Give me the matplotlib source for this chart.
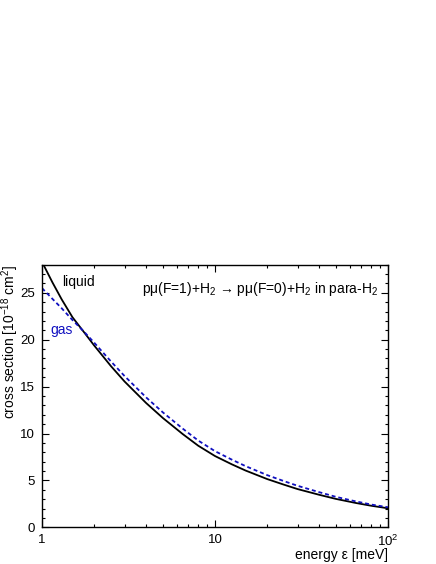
import matplotlib
matplotlib.use("Agg")
import matplotlib.pyplot as plt
from matplotlib.ticker import MultipleLocator, FixedLocator, FixedFormatter, LogLocator, NullFormatter

plt.rcParams['font.family'] = ['Liberation Sans', 'DejaVu Sans']
plt.rcParams['mathtext.fontset'] = 'custom'
plt.rcParams['mathtext.rm'] = 'Liberation Sans'
plt.rcParams['mathtext.it'] = 'Liberation Sans:italic'
plt.rcParams['mathtext.bf'] = 'Liberation Sans:bold'

# energy in meV, cross sections in 1e-18 cm^2
energy = [1.0, 1.15, 1.3, 1.5, 1.75, 2.0, 2.5, 3.0, 4.0, 5.0, 6.5,
          8.0, 10, 12.5, 15, 20, 25, 30, 40, 50, 65, 80, 100]
liquid = [28.3, 26.1, 24.3, 22.4, 20.8, 19.4, 17.2, 15.55, 13.25, 11.65, 9.95,
          8.7, 7.6, 6.72, 6.06, 5.15, 4.55, 4.08, 3.47, 3.03, 2.6, 2.3, 2.03]
gas = [25.5, 24.35, 23.35, 22.1, 20.85, 19.7, 17.7, 16.13, 13.85, 12.25, 10.53,
       9.25, 8.12, 7.22, 6.53, 5.57, 4.93, 4.43, 3.75, 3.25, 2.77, 2.43, 2.14]

xtick_vals = [1, 10, 100]
xtick_labels = ['1', '10', '$10^{2}$']

fig = plt.figure(figsize=(4.36, 5.64), dpi=100)
ax = fig.add_axes([0.0963, 0.065, 0.7937, 0.4657])

ax.plot(energy, liquid, color='black', lw=1.3)
ax.plot(energy, gas, color='#1010c0', lw=1.3, dashes=(2.2, 1.6))

ax.set_xscale('log')
ax.set_xlim(1, 100)
ax.set_ylim(0, 28)

ax.xaxis.set_major_locator(FixedLocator(xtick_vals))
ax.xaxis.set_major_formatter(FixedFormatter(xtick_labels))
ax.xaxis.set_minor_locator(LogLocator(base=10, subs=range(2, 10)))
ax.xaxis.set_minor_formatter(NullFormatter())
ax.yaxis.set_major_locator(MultipleLocator(5))
ax.yaxis.set_minor_locator(MultipleLocator(1))

ax.tick_params(which='both', direction='in', top=True, right=True, labelsize=9.5, width=0.8)
ax.tick_params(which='major', length=5, pad=5)
ax.tick_params(which='minor', length=2.5)
for s in ax.spines.values():
    s.set_linewidth(1.0)

ax.set_xlabel('energy ε [meV]', fontsize=10, loc='right', labelpad=-1)
ax.set_ylabel('cross section [10$^{-18}$ cm$^{2}$]', fontsize=10, loc='top')
ax.yaxis.set_label_coords(-0.062, 1.0)

ax.text(1.3, 26.2, 'liquid', fontsize=10, color='black', va='center')
ax.text(1.12, 21.05, 'gas', fontsize=10, color='#1010c0', va='center')
ax.text(3.77, 25.4, 'pμ(F=1)+H$_2$ → pμ(F=0)+H$_2$ in para-H$_2$', fontsize=10,
        va='center')

fig.savefig('out.png', dpi=100)
